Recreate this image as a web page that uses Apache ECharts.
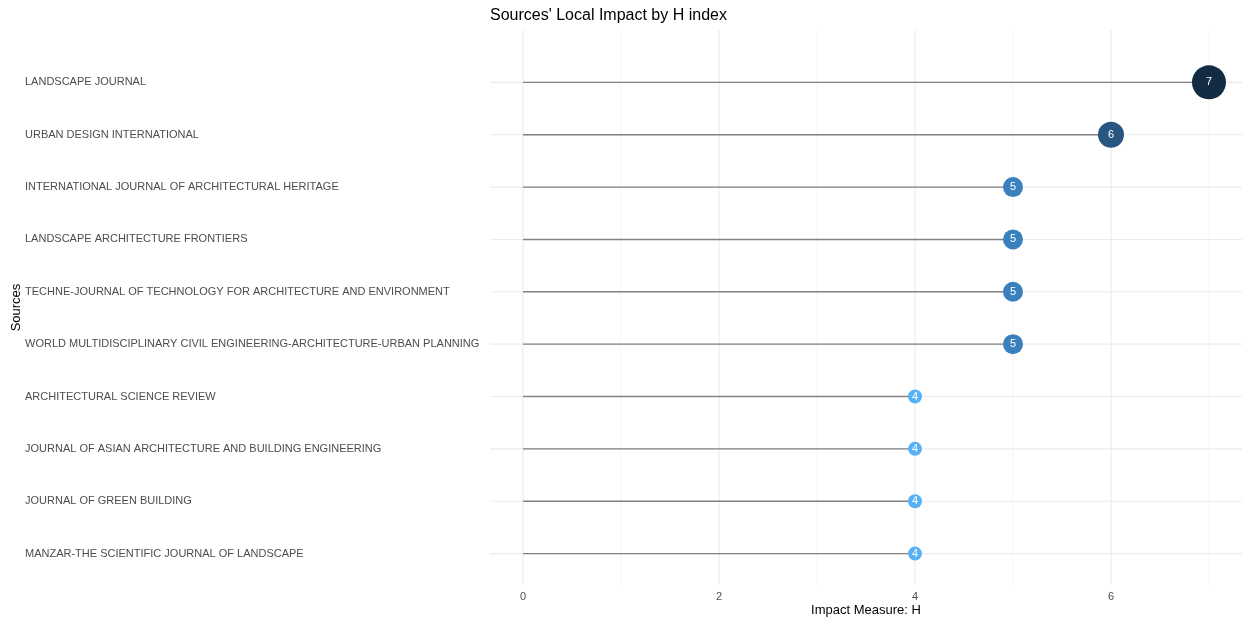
<!DOCTYPE html>
<html>
<head>
<meta charset="utf-8">
<script src="https://cdn.jsdelivr.net/npm/echarts@6/dist/echarts.min.js"></script>
<style>html,body{margin:0;padding:0;background:#fff;}#c{width:1242px;height:621px;}</style>
</head>
<body>
<div id="c"></div>
<script>
var sources = [
  'LANDSCAPE JOURNAL',
  'URBAN DESIGN INTERNATIONAL',
  'INTERNATIONAL JOURNAL OF ARCHITECTURAL HERITAGE',
  'LANDSCAPE ARCHITECTURE FRONTIERS',
  'TECHNE-JOURNAL OF TECHNOLOGY FOR ARCHITECTURE AND ENVIRONMENT',
  'WORLD MULTIDISCIPLINARY CIVIL ENGINEERING-ARCHITECTURE-URBAN PLANNING',
  'ARCHITECTURAL SCIENCE REVIEW',
  'JOURNAL OF ASIAN ARCHITECTURE AND BUILDING ENGINEERING',
  'JOURNAL OF GREEN BUILDING',
  'MANZAR-THE SCIENTIFIC JOURNAL OF LANDSCAPE'
];
var hIndex = [7, 6, 5, 5, 5, 5, 4, 4, 4, 4];
var xTicks = [0, 2, 4, 6];
var xMinorGrid = [1, 3, 5, 7];

var colorByValue = {4: '#56B1F7', 5: '#3A80BD', 6: '#285680', 7: '#132B43'};
var sizeByValue = {4: 14, 5: 20, 6: 26, 7: 34};

var pts = hIndex.map(function (v, i) { return [v, i]; });

var chart = echarts.init(document.getElementById('c'));
chart.setOption({
  animation: false,
  backgroundColor: '#fff',
  textStyle: {fontFamily: 'Liberation Sans, Arial, sans-serif'},
  title: {
    text: "Sources' Local Impact by H index",
    left: 485, top: 3,
    textStyle: {fontSize: 16, fontWeight: 'normal', color: '#000', fontFamily: 'Liberation Sans, Arial, sans-serif'}
  },
  grid: {left: 490, right: 0, top: 30, bottom: 36, containLabel: false, outerBoundsMode: 'none'},
  xAxis: {
    type: 'value',
    min: -0.337, max: 7.337,
    splitNumber: 4,
    axisLine: {show: false},
    axisTick: {show: false},
    axisLabel: {
      color: '#4d4d4d', fontSize: 11, margin: 6,
      showMinLabel: false, showMaxLabel: false,
      formatter: function (v) { return xTicks.indexOf(Math.round(v * 1000) / 1000) >= 0 ? String(v) : ''; }
    },
    splitLine: {show: false},
    name: 'Impact Measure: H',
    nameLocation: 'middle',
    nameGap: 19,
    nameMoveOverlap: false,
    nameTextStyle: {color: '#000', fontSize: 13}
  },
  yAxis: {
    type: 'value',
    inverse: true,
    min: -1, max: 9.6, interval: 1,
    axisLine: {show: false},
    axisTick: {show: false},
    splitLine: {show: false},
    axisLabel: {
      color: '#4d4d4d', fontSize: 11, align: 'left', margin: 465,
      showMinLabel: false, showMaxLabel: false,
      formatter: function (v) { return (Number.isInteger(v) && v >= 0 && v < sources.length) ? sources[v] : ''; }
    },
    name: 'Sources',
    nameLocation: 'middle',
    nameRotate: 90,
    nameGap: 467,
    nameMoveOverlap: false,
    nameTextStyle: {color: '#000', fontSize: 13}
  },
  series: [
    {
      type: 'custom',
      silent: true,
      z: 1,
      data: sources.map(function (s, i) { return [i]; }),
      renderItem: function (params, api) {
        var i = api.value(0);
        var cs = params.coordSys;
        var y = api.coord([0, i])[1];
        return {type: 'line', shape: {x1: cs.x, y1: y, x2: cs.x + cs.width, y2: y},
          style: {stroke: '#ebebeb', lineWidth: 1.1}};
      }
    },
    {
      type: 'custom',
      silent: true,
      z: 1,
      data: xTicks.map(function (v) { return [v, 1]; }).concat(xMinorGrid.map(function (v) { return [v, 0]; })),
      renderItem: function (params, api) {
        var v = api.value(0);
        var major = api.value(1) === 1;
        var cs = params.coordSys;
        var x = api.coord([v, 0])[0];
        return {type: 'line', shape: {x1: x, y1: cs.y, x2: x, y2: cs.y + cs.height},
          style: {stroke: major ? '#ebebeb' : '#f4f4f4', lineWidth: major ? 1.1 : 0.8}};
      }
    },
    {
      type: 'custom',
      silent: true,
      z: 2,
      data: pts,
      renderItem: function (params, api) {
        var v = api.value(0), i = api.value(1);
        var p0 = api.coord([0, i]);
        var p1 = api.coord([v, i]);
        return {type: 'line', shape: {x1: p0[0], y1: p0[1], x2: p1[0], y2: p1[1]},
          style: {stroke: '#828282', lineWidth: 1.4}};
      }
    },
    {
      type: 'scatter',
      z: 3,
      data: pts,
      symbolSize: function (d) { return sizeByValue[d[0]]; },
      itemStyle: {
        opacity: 1,
        color: function (p) { return colorByValue[p.data[0]]; }
      },
      label: {
        show: true, position: 'inside', color: '#fff', fontSize: 11,
        formatter: function (p) { return String(p.data[0]); }
      }
    }
  ]
});
</script>
</body>
</html>
